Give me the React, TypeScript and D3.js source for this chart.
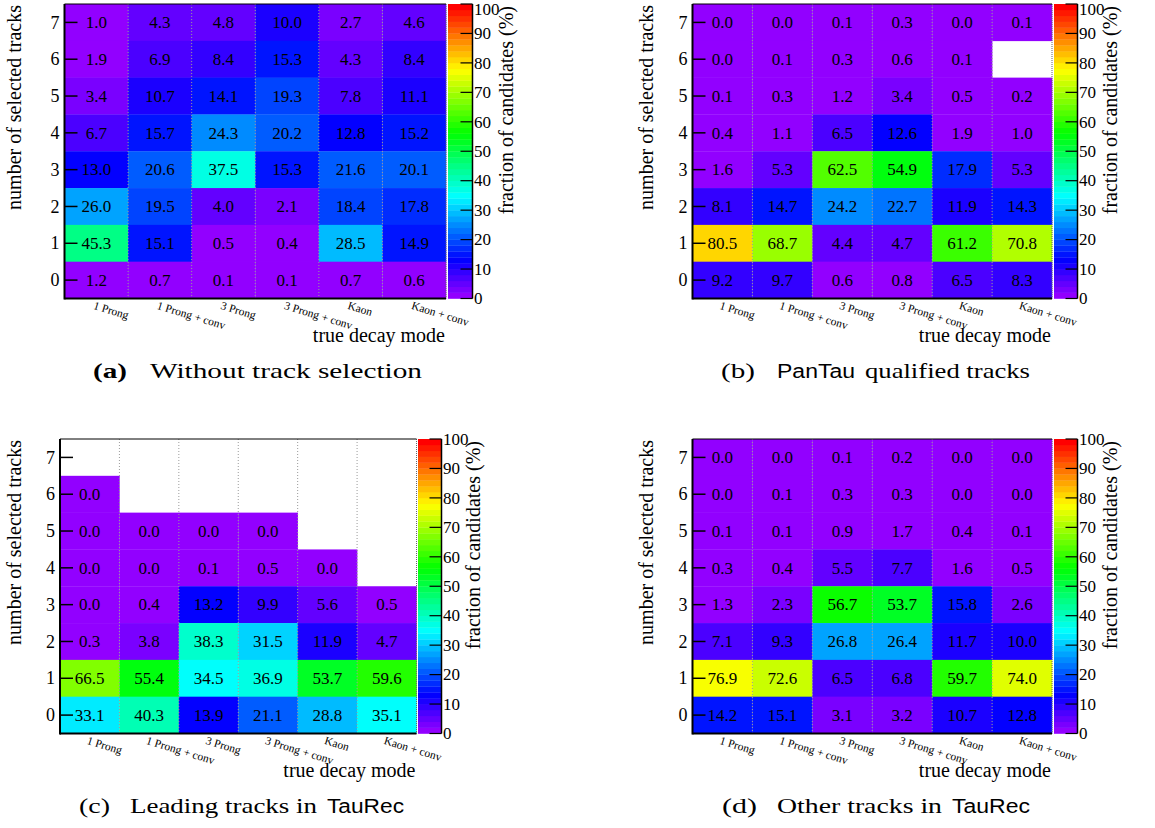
import React from "react";
import * as d3 from "d3";

// ---------- data ----------
const decayModes = ["1 Prong", "1 Prong + conv", "3 Prong", "3 Prong + conv", "Kaon", "Kaon + conv"];
const trackCounts = [7, 6, 5, 4, 3, 2, 1, 0];
const colorbarTicks = [0, 10, 20, 30, 40, 50, 60, 70, 80, 90, 100];

// rows listed from 7 selected tracks (top) down to 0; null = empty bin
const valuesWithoutSelection: (number | null)[][] = [
  [1.0, 4.3, 4.8, 10.0, 2.7, 4.6],
  [1.9, 6.9, 8.4, 15.3, 4.3, 8.4],
  [3.4, 10.7, 14.1, 19.3, 7.8, 11.1],
  [6.7, 15.7, 24.3, 20.2, 12.8, 15.2],
  [13.0, 20.6, 37.5, 15.3, 21.6, 20.1],
  [26.0, 19.5, 4.0, 2.1, 18.4, 17.8],
  [45.3, 15.1, 0.5, 0.4, 28.5, 14.9],
  [1.2, 0.7, 0.1, 0.1, 0.7, 0.6],
];
const valuesPanTau: (number | null)[][] = [
  [0.0, 0.0, 0.1, 0.3, 0.0, 0.1],
  [0.0, 0.1, 0.3, 0.6, 0.1, null],
  [0.1, 0.3, 1.2, 3.4, 0.5, 0.2],
  [0.4, 1.1, 6.5, 12.6, 1.9, 1.0],
  [1.6, 5.3, 62.5, 54.9, 17.9, 5.3],
  [8.1, 14.7, 24.2, 22.7, 11.9, 14.3],
  [80.5, 68.7, 4.4, 4.7, 61.2, 70.8],
  [9.2, 9.7, 0.6, 0.8, 6.5, 8.3],
];
const valuesLeadingTauRec: (number | null)[][] = [
  [null, null, null, null, null, null],
  [0.0, null, null, null, null, null],
  [0.0, 0.0, 0.0, 0.0, null, null],
  [0.0, 0.0, 0.1, 0.5, 0.0, null],
  [0.0, 0.4, 13.2, 9.9, 5.6, 0.5],
  [0.3, 3.8, 38.3, 31.5, 11.9, 4.7],
  [66.5, 55.4, 34.5, 36.9, 53.7, 59.6],
  [33.1, 40.3, 13.9, 21.1, 28.8, 35.1],
];
const valuesOtherTauRec: (number | null)[][] = [
  [0.0, 0.0, 0.1, 0.2, 0.0, 0.0],
  [0.0, 0.1, 0.3, 0.3, 0.0, 0.0],
  [0.1, 0.1, 0.9, 1.7, 0.4, 0.1],
  [0.3, 0.4, 5.5, 7.7, 1.6, 0.5],
  [1.3, 2.3, 56.7, 53.7, 15.8, 2.6],
  [7.1, 9.3, 26.8, 26.4, 11.7, 10.0],
  [76.9, 72.6, 6.5, 6.8, 59.7, 74.0],
  [14.2, 15.1, 3.1, 3.2, 10.7, 12.8],
];

const captionA = [{ t: "(a)", k: "bold" }, { t: "Without track selection", k: "serif" }];
const captionB = [{ t: "(b)", k: "serif" }, { t: "PanTau", k: "sans" }, { t: "qualified tracks", k: "serif" }];
const captionC = [{ t: "(c)", k: "serif" }, { t: "Leading tracks in", k: "serif" }, { t: "TauRec", k: "sans" }];
const captionD = [{ t: "(d)", k: "serif" }, { t: "Other tracks in", k: "serif" }, { t: "TauRec", k: "sans" }];

const yTitle = "number of selected tracks";
const xTitle = "true decay mode";
const zTitle = "fraction of candidates (%)";

// ---------- layout ----------
const SERIF = "'Liberation Serif', 'Times New Roman', serif";
const SANS = "'Liberation Sans', 'DejaVu Sans', sans-serif";

const panels = [
  { data: valuesWithoutSelection, caption: captionA, left: 64.5, right: 446, top: 4, bottom: 298.5, cb0: 448, cb1: 472.5, yTitleX: 21, zTitleX: 513,
    capX: [[93, 127], [150, 422]] },
  { data: valuesPanTau, caption: captionB, left: 692.5, right: 1052, top: 4, bottom: 298.5, cb0: 1054, cb1: 1077.5, yTitleX: 653, zTitleX: 1117,
    capX: [[721, 755], [777, 855], [865, 1030]] },
  { data: valuesLeadingTauRec, caption: captionC, left: 60, right: 416.5, top: 439, bottom: 733.5, cb0: 418, cb1: 441.5, yTitleX: 21, zTitleX: 480,
    capX: [[79, 110], [130, 317], [327, 404]] },
  { data: valuesOtherTauRec, caption: captionD, left: 692.5, right: 1052, top: 439, bottom: 733.5, cb0: 1054, cb1: 1077.5, yTitleX: 653, zTitleX: 1117,
    capX: [[722, 757], [777, 942], [952, 1030]] },
];

// ROOT "pretty palette": 50 HLS colours from violet to red
const NCOL = 50;
const palette = d3.range(NCOL).map((i) => {
  const hue = i === NCOL - 1 ? 0 : 280 - (i + 1) * (280 / NCOL);
  return d3.hsl(hue, 1, 0.5).formatHex();
});
const colorFor = (v: number) => palette[Math.max(0, Math.min(NCOL - 1, Math.floor((v / 100) * NCOL)))];

function Panel({ p }: { p: (typeof panels)[number] }) {
  const x = d3.scaleBand<string>().domain(decayModes).range([p.left, p.right]);
  const y = d3.scaleBand<number>().domain(trackCounts).range([p.top, p.bottom]);
  const z = d3.scaleLinear().domain([0, 100]).range([p.bottom, p.top]);
  const bands = d3.range(NCOL);
  const capY = p.bottom + 79;
  return (
    <g>
      {/* cells */}
      {p.data.map((row, ri) =>
        row.map((v, ci) =>
          v === null ? null : (
            <rect key={`c${ri}-${ci}`} x={x(decayModes[ci])} y={y(trackCounts[ri])} width={x.bandwidth() + 0.3}
              height={y.bandwidth() + 0.3} fill={colorFor(v)} />
          )
        )
      )}
      {/* dotted grid at column boundaries */}
      {decayModes.slice(1).map((m) => (
        <line key={`g${m}`} x1={x(m)} x2={x(m)} y1={p.top} y2={p.bottom} stroke="#9a9a9a" strokeWidth={1} strokeDasharray="1,2" />
      ))}
      <line x1={p.right} x2={p.right} y1={p.top} y2={p.bottom} stroke="#666" strokeWidth={1} strokeDasharray="1,1" />
      {/* cell values */}
      {p.data.map((row, ri) =>
        row.map((v, ci) =>
          v === null ? null : (
            <text key={`t${ri}-${ci}`} x={(x(decayModes[ci]) as number) + x.bandwidth() / 2}
              y={(y(trackCounts[ri]) as number) + y.bandwidth() / 2} dy="0.34em" textAnchor="middle"
              fontFamily={SERIF} fontSize={17} fill="#000">{v.toFixed(1)}</text>
          )
        )
      )}
      {/* frame */}
      <line x1={p.left} x2={p.right} y1={p.top} y2={p.top} stroke="#000" strokeWidth={1} />
      <line x1={p.left} x2={p.left} y1={p.top} y2={p.bottom + 1} stroke="#000" strokeWidth={2} />
      <line x1={p.left} x2={p.right} y1={p.bottom} y2={p.bottom} stroke="#000" strokeWidth={2} />
      {/* y ticks & labels */}
      {trackCounts.map((n) => {
        const cy = (y(n) as number) + y.bandwidth() / 2;
        return (
          <g key={`y${n}`}>
            <line x1={p.left} x2={p.left + 13} y1={cy} y2={cy} stroke="#000" strokeWidth={1.5} />
            <text x={p.left - 5} y={cy} dy="0.34em" textAnchor="end" fontFamily={SERIF} fontSize={18}>{n}</text>
          </g>
        );
      })}
      {/* x labels */}
      {decayModes.map((m) => {
        const cx = (x(m) as number) + x.bandwidth() / 2;
        return (
          <text key={`x${m}`} transform={`translate(${cx - 1},${p.bottom + 2}) rotate(17)`} dy="0.75em"
            fontFamily={SERIF} fontSize={11.5}>{m}</text>
        );
      })}
      {/* axis titles */}
      <text x={p.right - 1} y={p.bottom + 43} textAnchor="end" fontFamily={SERIF} fontSize={20}>{xTitle}</text>
      <text transform={`translate(${p.yTitleX},${p.top + 1}) rotate(-90)`} textAnchor="end" fontFamily={SERIF} fontSize={20}>{yTitle}</text>
      {/* colour bar */}
      {bands.map((i) => (
        <rect key={`b${i}`} x={p.cb0} width={p.cb1 - p.cb0} y={z(((i + 1) * 100) / NCOL)}
          height={z((i * 100) / NCOL) - z(((i + 1) * 100) / NCOL) + 0.3} fill={palette[i]} />
      ))}
      <line x1={p.cb1} x2={p.cb1} y1={p.top} y2={p.bottom} stroke="#000" strokeWidth={1.5} />
      {colorbarTicks.map((t) => (
        <g key={`z${t}`}>
          <line x1={p.cb1 - 12} x2={p.cb1} y1={z(t)} y2={z(t)} stroke="#000" strokeWidth={1.2} />
          <text x={p.cb1 + 1.5} y={Math.max(z(t), 9.5)} dy="0.34em" fontFamily={SERIF} fontSize={17}>{t}</text>
        </g>
      ))}
      <text transform={`translate(${p.zTitleX},${p.top + 2}) rotate(-90)`} textAnchor="end" fontFamily={SERIF} fontSize={20}>{zTitle}</text>
      {/* caption */}
      {p.caption.map((s, i) => (
        <text key={`cap${i}`} x={p.capX[i][0]} y={capY} textLength={p.capX[i][1] - p.capX[i][0]} lengthAdjust="spacingAndGlyphs"
          fontFamily={s.k === "sans" ? SANS : SERIF} fontWeight={s.k === "bold" ? "bold" : "normal"}
          fontSize={s.k === "sans" ? 20 : 22}>{s.t}</text>
      ))}
    </g>
  );
}

export default function App() {
  return (
    <svg width={1155} height={828} viewBox="0 0 1155 828" style={{ position: "absolute", left: 0, top: 0, background: "#fff" }}>
      <rect x={0} y={0} width={1155} height={828} fill="#fff" />
      {panels.map((p, i) => (
        <Panel key={i} p={p} />
      ))}
    </svg>
  );
}
